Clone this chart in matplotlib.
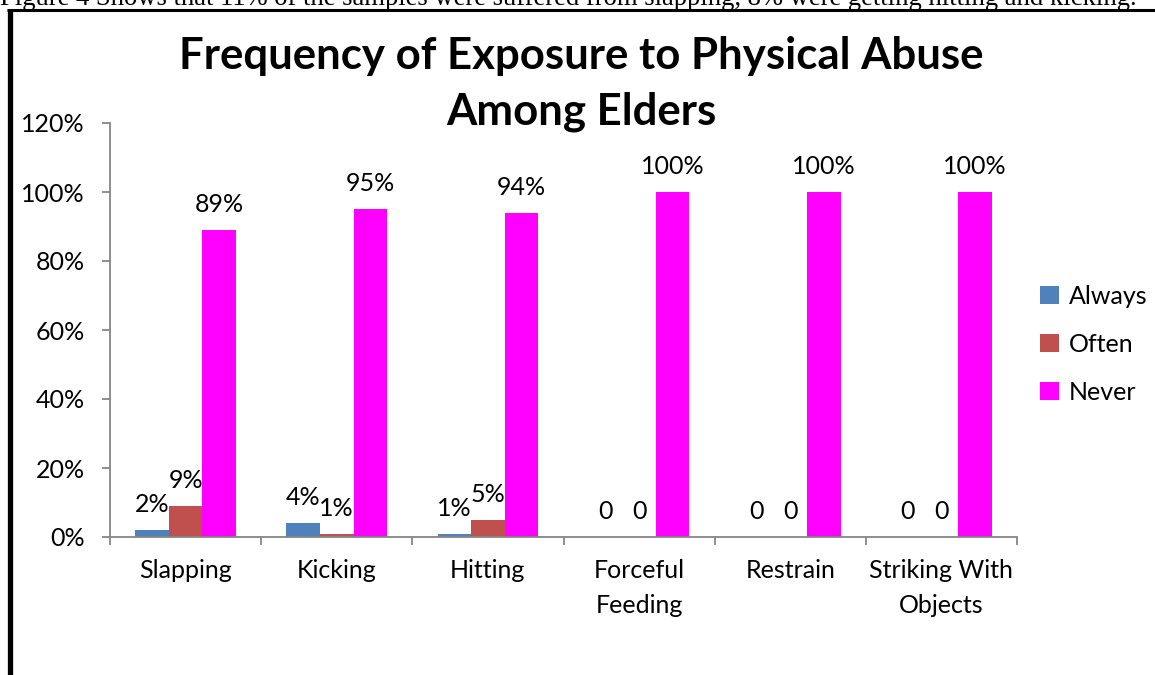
import matplotlib
matplotlib.use("Agg")
import matplotlib.pyplot as plt
import numpy as np
from matplotlib.lines import Line2D

plt.rcParams['font.family'] = ['Lato', 'DejaVu Sans']

categories = ['Slapping', 'Kicking', 'Hitting', 'Forceful\nFeeding', 'Restrain', 'Striking With\nObjects']
always = [2, 4, 1, 0, 0, 0]
often = [9, 1, 5, 0, 0, 0]
never = [89, 95, 94, 100, 100, 100]
series_names = ['Always', 'Often', 'Never']
colors = ['#4F81BD', '#C0504D', '#FF00FF']
yticks = [0, 20, 40, 60, 80, 100, 120]

axis_grey = '#868686'

fig = plt.figure(figsize=(11.55, 6.75), dpi=100)
ax = fig.add_axes([110 / 1155, 1 - 537 / 675, (1017 - 110) / 1155, (537 - 123) / 675])

x = np.arange(len(categories)) + 0.5
w = 0.222
for i, (vals, name, col) in enumerate(zip([always, often, never], series_names, colors)):
    v = np.array(vals) / 100
    bars = ax.bar(x + (i - 1) * w, v, width=w, color=col, label=name, zorder=2)
    labels = [f'{n}%' if n else '0' for n in vals]
    ax.bar_label(bars, labels=labels, padding=10, fontsize=18, color='black')

ax.set_xlim(0, len(categories))
ax.set_ylim(0, 1.2)

# y axis
ax.set_yticks(np.array(yticks) / 100)
ax.set_yticklabels([f'{t}%' for t in yticks], fontsize=18)

# category boundaries get the tick marks, names sit in between
ax.set_xticks(np.arange(len(categories) + 1))
ax.set_xticklabels([])
ax.set_xticks(x, minor=True)
ax.set_xticklabels(categories, minor=True, fontsize=18, linespacing=1.6, va='top')
ax.tick_params(axis='x', which='minor', length=0, pad=16)
ax.tick_params(axis='both', which='major', length=6, width=1.3, color=axis_grey, direction='out')
ax.tick_params(axis='y', pad=12)

for s in ['top', 'right']:
    ax.spines[s].set_visible(False)
for s in ['left', 'bottom']:
    ax.spines[s].set_color(axis_grey)
    ax.spines[s].set_linewidth(1.3)

fig.text(0.503, 1 - 84 / 675, 'Frequency of Exposure to Physical Abuse\nAmong Elders',
         ha='center', va='center', fontsize=31.5, fontweight='bold', linespacing=1.45)

fig.legend(loc='center left', bbox_to_anchor=(1030 / 1155, 1 - 344 / 675), frameon=False,
           fontsize=18, handlelength=0.75, handleheight=0.75, handletextpad=0.4,
           labelspacing=1.0, borderaxespad=0)

# caption line running off the top of the page
fig.text(0.0, 1 - 5 / 675,
         'Figure 4 Shows that 11% of the samples were suffered from slapping, 8% were getting hitting and kicking.',
         family='Liberation Serif', fontsize=19.2, va='baseline', ha='left')

# page frame
fig.add_artist(Line2D([9.5 / 1155, 9.5 / 1155], [0, 1 - 9 / 675], color='black', lw=3.8,
                      transform=fig.transFigure, solid_capstyle='butt'))
fig.add_artist(Line2D([7 / 1155, 1], [1 - 10 / 675, 1 - 10 / 675], color='black', lw=2.2,
                      transform=fig.transFigure, solid_capstyle='butt'))

fig.savefig('out.png', dpi=100)
